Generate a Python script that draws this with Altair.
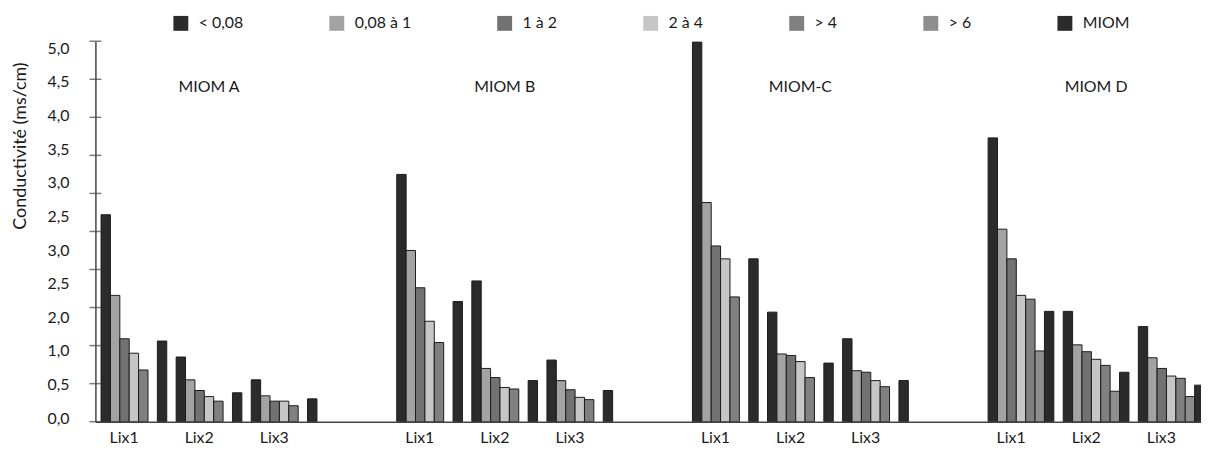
import altair as alt
import pandas as pd

# ---------------- data ----------------
CATEGORIES = ["< 0,08", "0,08 à 1", "1 à 2", "2 à 4", "> 4", "> 6", "MIOM"]
PANELS = ["MIOM A", "MIOM B", "MIOM-C", "MIOM D"]
LIX = ["Lix1", "Lix2", "Lix3"]
Y_LABELS = ["0,0", "0,5", "1,0", "2,0", "2,5", "3,0", "2,5", "3,0", "3,5", "4,0", "4,5", "5,0"]
Y_TICKS = [0.0, 0.5, 1.0, 1.5, 2.0, 2.5, 3.0, 3.5, 4.0, 4.5, 5.0]

# each list: [MIOM A, MIOM B, MIOM C, MIOM D], each with Lix1, Lix2, Lix3
V_LT_008 = [[2.72, 0.85, 0.55], [3.25, 1.85, 0.81], [4.99, 1.44, 1.09], [3.73, 1.45, 1.25]]
V_008_1 = [[1.66, 0.55, 0.34], [2.25, 0.70, 0.54], [2.88, 0.89, 0.67], [2.53, 1.01, 0.84]]
V_1_2 = [[1.09, 0.41, 0.27], [1.76, 0.58, 0.42], [2.31, 0.87, 0.65], [2.14, 0.92, 0.70]]
V_2_4 = [[0.90, 0.33, 0.27], [1.32, 0.45, 0.32], [2.14, 0.79, 0.54], [1.66, 0.82, 0.60]]
V_GT_4 = [[0.68, 0.27, 0.21], [1.04, 0.43, 0.29], [1.64, 0.58, 0.46], [1.61, 0.74, 0.57]]
V_GT_6 = [[None, None, None], [None, None, None], [None, None, None], [0.93, 0.40, 0.33]]
V_MIOM = [[1.06, 0.38, 0.30], [1.58, 0.54, 0.41], [2.14, 0.77, 0.54], [1.45, 0.65, 0.48]]
SERIES = [V_LT_008, V_008_1, V_1_2, V_2_4, V_GT_4, V_GT_6, V_MIOM]

# ---------------- layout / style ----------------
FILLS = ["#2b2b2b", "#a3a3a3", "#727272", "#c6c6c6", "#808080", "#8e8e8e", "#2b2b2b"]
FONT = "Lato"
PLOT_W, PLOT_H = 1113, 383
PANEL_STRIDE = 31.5     # slots between panels
LIX_STRIDE = 8          # slots between Lix groups
LABEL_SHIFT = 2.4       # Lix label centre inside a group (slots)
TITLE_SHIFT = 11.5      # panel title centre inside a panel (slots)
TITLE_LEVEL = 4.40
X_MIN = -0.6
X_MAX = X_MIN + PLOT_W / 9.45

rows = []
for ci, (cat, ser) in enumerate(zip(CATEGORIES, SERIES)):
    for pi, panel in enumerate(PANELS):
        for li, lix in enumerate(LIX):
            v = ser[pi][li]
            if v is None:
                continue
            x0 = pi * PANEL_STRIDE + li * LIX_STRIDE + ci
            rows.append({"panel": panel, "lix": lix, "category": cat,
                         "value": v, "x0": x0, "x1": x0 + 1})
df = pd.DataFrame(rows)

xscale = alt.Scale(domain=[X_MIN, X_MAX], nice=False, zero=False)
yscale = alt.Scale(domain=[0, 5.0], nice=False, zero=True)

lix_positions = [pi * PANEL_STRIDE + li * LIX_STRIDE + LABEL_SHIFT
                 for pi in range(len(PANELS)) for li in range(len(LIX))]
lix_expr = "[" + ",".join("'%s'" % s for s in LIX) + "][floor((datum.value %% %s) / %s)]" % (PANEL_STRIDE, LIX_STRIDE)

bars = alt.Chart(df).mark_bar(stroke="#1c1c1c", strokeWidth=1, clip=True).encode(
    x=alt.X("x0:Q", scale=xscale,
            axis=alt.Axis(values=lix_positions, labelExpr=lix_expr, title=None,
                          ticks=False, grid=False, domainColor="#444", domainWidth=1.5,
                          labelFont=FONT, labelFontSize=16, labelColor="#1a1a1a",
                          labelPadding=8, labelFlush=False)),
    x2="x1:Q",
    y=alt.Y("value:Q", scale=yscale,
            axis=alt.Axis(values=Y_TICKS, labels=False, ticks=False, grid=False,
                          domainColor="#444", domainWidth=1.5,
                          title="Conductivité (ms/cm)", titleFont=FONT, titleFontSize=18,
                          titleFontWeight="normal", titleColor="#1a1a1a",
                          titleX=-75, titleY=105, titleAngle=270,
                          titleAlign="center", titleBaseline="middle")),
    y2=alt.datum(0),
    fill=alt.Fill("category:N", scale=alt.Scale(domain=CATEGORIES, range=FILLS),
                  legend=alt.Legend(orient="none", direction="horizontal", title=None,
                                    legendX=78, legendY=-26, symbolType="square",
                                    symbolSize=225, symbolStrokeWidth=0,
                                    labelFont=FONT, labelFontSize=16, labelColor="#1a1a1a",
                                    labelOffset=10, columnPadding=86)),
)

tick_df = pd.DataFrame({"v": Y_TICKS})
ticks = alt.Chart(tick_df).mark_tick(orient="horizontal", size=12, thickness=1.5, color="#444").encode(
    x=alt.datum(X_MIN, scale=xscale), y=alt.Y("v:Q", scale=yscale)
)

lab_df = pd.DataFrame({"label": Y_LABELS,
                       "pos": [0.04 + i * (4.86 / (len(Y_LABELS) - 1)) for i in range(len(Y_LABELS))]})
ylabels = alt.Chart(lab_df).mark_text(align="right", baseline="middle", dx=-26,
                                      font=FONT, fontSize=16, color="#1a1a1a").encode(
    x=alt.datum(X_MIN, scale=xscale), y=alt.Y("pos:Q", scale=yscale), text="label:N"
)

title_df = pd.DataFrame({"panel": PANELS,
                         "xp": [pi * PANEL_STRIDE + TITLE_SHIFT for pi in range(len(PANELS))]})
titles = alt.Chart(title_df).mark_text(align="center", baseline="middle",
                                       font=FONT, fontSize=16, color="#1a1a1a").encode(
    x=alt.X("xp:Q", scale=xscale), y=alt.datum(TITLE_LEVEL, scale=yscale), text="panel:N"
)

chart = alt.layer(bars, ticks, ylabels, titles).properties(
    width=PLOT_W, height=PLOT_H,
    padding={"left": 88, "top": 32, "right": 0, "bottom": 23},
    autosize=alt.AutoSizeParams(type="none"),
    background="white",
).configure_view(stroke=None)

chart.save("out.html", embed_options={"renderer": "svg", "actions": False})
